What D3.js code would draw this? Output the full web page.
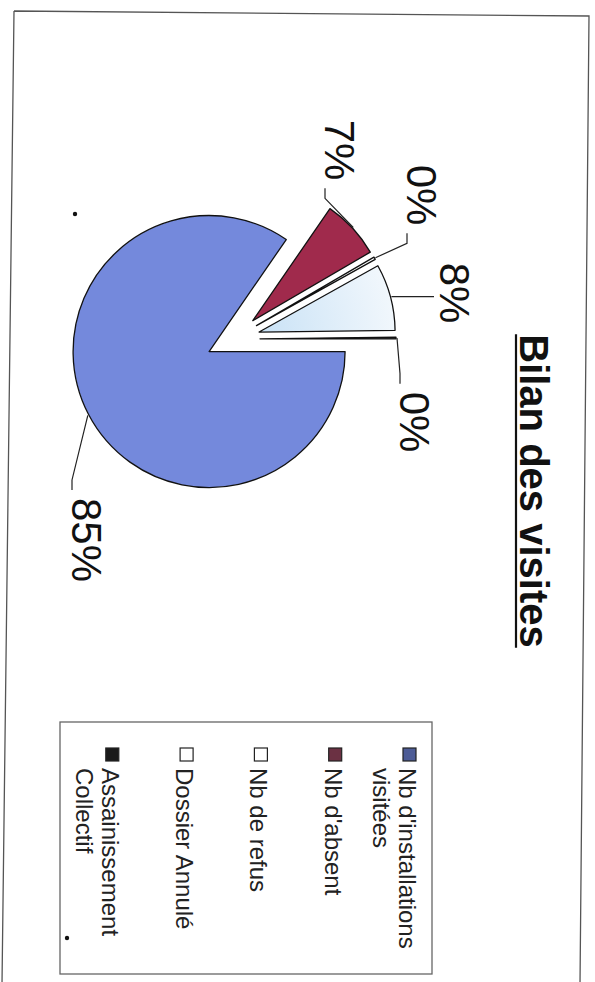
<!DOCTYPE html>
<html>
<head>
<meta charset="utf-8">
<script src="https://cdn.jsdelivr.net/npm/d3@7"></script>
<style>
  body { margin: 0; background: #fff; }
  svg { display: block; font-family: Arial, "Liberation Sans", sans-serif; }
</style>
</head>
<body>
<svg id="chart"></svg>
<script>
const title = "Bilan des visites";
const categories = [
  "Nb d'installations visitées",
  "Nb d'absent",
  "Nb de refus",
  "Dossier Annulé",
  "Assainissement Collectif"
];
// shares in % (the two 0% slices are thin slivers)
const shares = [84.6, 7.0, 0.3, 7.9, 0.2];
const sliceColors = ["#7489dc", "#a02a4c", "#ffffff", "#e3f0fb", "#1a1a1a"];
const legendColors = ["#4d5c96", "#6b3143", "#ffffff", "#ffffff", "#1a1a1a"];

const W = 595, H = 982;
const svg = d3.select("#chart").attr("width", W).attr("height", H);

// gradient for the light "Dossier Annulé" slice
const defs = svg.append("defs");
const grad = defs.append("radialGradient").attr("id", "annGrad")
  .attr("gradientUnits", "userSpaceOnUse").attr("cx", 0).attr("cy", 0).attr("r", 136);
grad.append("stop").attr("offset", "0%").attr("stop-color", "#c9e2f6");
grad.append("stop").attr("offset", "100%").attr("stop-color", "#f1f7fc");

// outer frame of the scanned page (slightly skewed)
svg.append("path")
  .attr("d", "M14,11 L589,16 L580,984 M2,984 L14,11")
  .attr("fill", "none")
  .attr("stroke", "#555")
  .attr("stroke-width", 1.3);

// the chart is laid out landscape and turned a quarter turn clockwise
const g = svg.append("g").attr("transform", `translate(${W},0) rotate(90)`);

const cx = 339, cy = 362, radius = 136, explode = 27;
const total = d3.sum(shares);
const data = categories.map((c, i) => ({ name: c, value: shares[i], color: sliceColors[i] }));

const pie = d3.pie().sort(null).value((d) => d.value);
const arc = d3.arc().innerRadius(0).outerRadius(radius);
const arcs = pie(data);

const mid = (d) => (d.startAngle + d.endAngle) / 2;
const polar = (a, k) => [Math.sin(a) * k, -Math.cos(a) * k];

const pieG = g.append("g").attr("transform", `translate(${cx},${cy})`);

pieG.selectAll("path.slice")
  .data(arcs)
  .join("path")
  .attr("class", "slice")
  .attr("transform", (d) => `translate(${polar(mid(d), explode)})`)
  .attr("d", arc)
  .attr("fill", (d, i) => (i === 3 ? "url(#annGrad)" : d.data.color))
  .attr("stroke", "#111")
  .attr("stroke-width", 1.3)
  .attr("stroke-linejoin", "round");

// percentage labels, offsets from the pie centre
const labelOffsets = [[201, 146], [-189, -107], [-144, -189], [-46, -222], [83, -182]];
const labelSize = 42;

arcs.forEach((d, i) => {
  const [dx, dy] = labelOffsets[i];
  const lx = cx + dx, ly = cy + dy;
  const t = g.append("text")
    .attr("x", lx)
    .attr("y", ly + labelSize * 0.36)
    .attr("text-anchor", "middle")
    .attr("font-size", labelSize)
    .attr("fill", "#111")
    .text(Math.round((d.data.value / total) * 100) + "%");

  const half = t.node().getBBox().width / 2;
  const a = mid(d);
  const o = polar(a, explode), p = polar(a, radius + 1);
  const start = [cx + o[0] + p[0], cy + o[1] + p[1]];
  const bottom = ly + 15;
  let pts;
  if (dx < -60) {
    const end = [lx + half + 8, bottom];
    pts = [start, [end[0] + 10, end[1]], end];
  } else if (dx > 60) {
    const end = [lx - half - 8, bottom];
    pts = [start, [end[0] - 10, end[1]], end];
  } else {
    pts = [start, [start[0], bottom + 6]];
  }
  g.append("path")
    .attr("d", d3.line()(pts))
    .attr("fill", "none")
    .attr("stroke", "#222")
    .attr("stroke-width", 1.2);
});

// title with underline
const titleText = g.append("text")
  .attr("x", 491)
  .attr("y", 75)
  .attr("text-anchor", "middle")
  .attr("font-size", 40)
  .attr("font-weight", "bold")
  .attr("fill", "#111")
  .text(title);
const tb = titleText.node().getBBox();
g.append("line")
  .attr("x1", tb.x).attr("x2", tb.x + tb.width)
  .attr("y1", 79).attr("y2", 79)
  .attr("stroke", "#111").attr("stroke-width", 2.2);

// legend
const legend = g.append("g");
legend.append("rect")
  .attr("x", 722).attr("y", 163)
  .attr("width", 252).attr("height", 372)
  .attr("fill", "#fff")
  .attr("stroke", "#666")
  .attr("stroke-width", 1.3);

const legendSize = 24, rowStep = 74.3, firstRow = 196, wrapWidth = 190;

categories.forEach((name, i) => {
  const base = firstRow + i * rowStep;
  legend.append("rect")
    .attr("x", 748).attr("y", base - 17)
    .attr("width", 13).attr("height", 13)
    .attr("fill", legendColors[i])
    .attr("stroke", "#222")
    .attr("stroke-width", 1.2);

  const t = legend.append("text")
    .attr("x", 768).attr("y", base)
    .attr("font-size", legendSize)
    .attr("fill", "#222");
  // simple word wrap
  const words = name.split(" ");
  let line = [], ts = t.append("tspan").attr("x", 768).attr("y", base), row = 0;
  words.forEach((w) => {
    line.push(w);
    ts.text(line.join(" "));
    if (ts.node().getComputedTextLength() > wrapWidth && line.length > 1) {
      line.pop();
      ts.text(line.join(" "));
      line = [w];
      row += 1;
      ts = t.append("tspan").attr("x", 768).attr("y", base + row * 26).text(w);
    }
  });
});

// specks from the scan
g.selectAll("circle.speck")
  .data([[214, 520], [938, 528]])
  .join("circle")
  .attr("class", "speck")
  .attr("cx", (d) => d[0]).attr("cy", (d) => d[1])
  .attr("r", 2.2)
  .attr("fill", "#111");
</script>
</body>
</html>
